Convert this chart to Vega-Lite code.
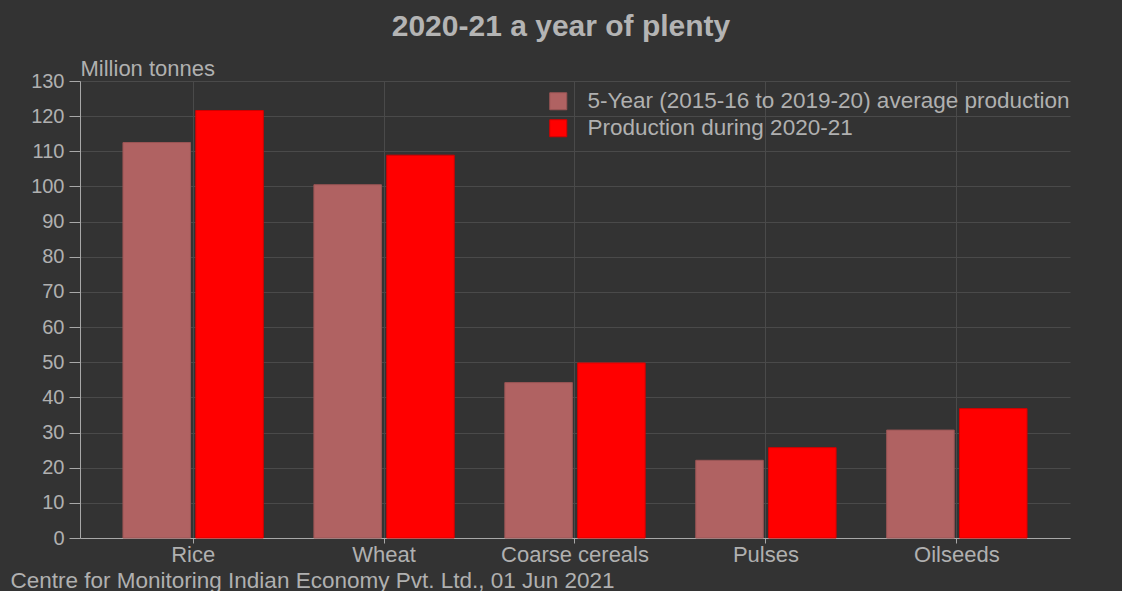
{
  "$schema": "https://vega.github.io/schema/vega-lite/v6.json",
  "width": 990,
  "height": 457,
  "autosize": {"type": "none"},
  "padding": {"left": 80, "top": 81, "right": 52, "bottom": 53},
  "background": "#333333",
  "title": {
    "text": "2020-21 a year of plenty",
    "font": "Liberation Sans",
    "fontSize": 30,
    "fontWeight": "bold",
    "color": "#b4b4b4",
    "anchor": "middle",
    "frame": "group",
    "baseline": "alphabetic",
    "dx": -14,
    "offset": -9
  },
  "data": {
    "values": [
      {"crop": "Rice", "series": "5-Year (2015-16 to 2019-20) average production", "value": 112.5},
      {"crop": "Rice", "series": "Production during 2020-21", "value": 121.6},
      {"crop": "Wheat", "series": "5-Year (2015-16 to 2019-20) average production", "value": 100.5},
      {"crop": "Wheat", "series": "Production during 2020-21", "value": 108.9},
      {"crop": "Coarse cereals", "series": "5-Year (2015-16 to 2019-20) average production", "value": 44.2},
      {"crop": "Coarse cereals", "series": "Production during 2020-21", "value": 49.8},
      {"crop": "Pulses", "series": "5-Year (2015-16 to 2019-20) average production", "value": 22.1},
      {"crop": "Pulses", "series": "Production during 2020-21", "value": 25.7},
      {"crop": "Oilseeds", "series": "5-Year (2015-16 to 2019-20) average production", "value": 30.7},
      {"crop": "Oilseeds", "series": "Production during 2020-21", "value": 36.8}
    ]
  },
  "mark": {"type": "bar", "strokeWidth": 1},
  "encoding": {
    "x": {
      "field": "crop",
      "type": "nominal",
      "sort": ["Rice", "Wheat", "Coarse cereals", "Pulses", "Oilseeds"],
      "scale": {"paddingInner": 0.265, "paddingOuter": 0.225},
      "axis": {
        "title": "Centre for Monitoring Indian Economy Pvt. Ltd., 01 Jun 2021",
        "titleX": -70,
        "titleY": 49,
        "titleAlign": "left",
        "titleAnchor": "start",
        "titleBaseline": "alphabetic",
        "titleFont": "Liberation Sans",
        "titleFontSize": 22.5,
        "titleFontWeight": "normal",
        "titleColor": "#b0b0b0",
        "labelAngle": 0,
        "labelFont": "Liberation Sans",
        "labelFontSize": 22,
        "labelColor": "#b0b0b0",
        "labelPadding": 1,
        "tickSize": 5,
        "tickColor": "#a8a8a8",
        "domainColor": "#a8a8a8",
        "grid": true,
        "gridColor": "#4a4a4a",
        "bandPosition": 0.5
      }
    },
    "xOffset": {
      "field": "series",
      "type": "nominal",
      "sort": ["5-Year (2015-16 to 2019-20) average production", "Production during 2020-21"],
      "scale": {"paddingInner": 0.073, "paddingOuter": 0}
    },
    "y": {
      "field": "value",
      "type": "quantitative",
      "scale": {"domain": [0, 130], "nice": false},
      "axis": {
        "values": [0, 10, 20, 30, 40, 50, 60, 70, 80, 90, 100, 110, 120, 130],
        "title": "Million tonnes",
        "titleAngle": 0,
        "titleX": 0,
        "titleY": -6,
        "titleAlign": "left",
        "titleBaseline": "alphabetic",
        "titleFont": "Liberation Sans",
        "titleFontSize": 22,
        "titleFontWeight": "normal",
        "titleColor": "#b0b0b0",
        "labelFont": "Liberation Sans",
        "labelFontSize": 20,
        "labelColor": "#b0b0b0",
        "labelPadding": 5,
        "tickSize": 11,
        "tickColor": "#a8a8a8",
        "domainColor": "#a8a8a8",
        "grid": true,
        "gridColor": "#4a4a4a"
      }
    },
    "color": {
      "field": "series",
      "type": "nominal",
      "scale": {
        "domain": ["5-Year (2015-16 to 2019-20) average production", "Production during 2020-21"],
        "range": ["#b06262", "#ff0000"]
      },
      "legend": {
        "title": null,
        "orient": "none",
        "legendX": 467,
        "legendY": 9,
        "symbolType": "square",
        "symbolSize": 289,
        "symbolStrokeWidth": 1,
        "labelFont": "Liberation Sans",
        "labelFontSize": 22.5,
        "labelColor": "#b0b0b0",
        "labelOffset": 18,
        "rowPadding": 4,
        "labelLimit": 600
      }
    },
    "stroke": {
      "field": "series",
      "type": "nominal",
      "scale": {
        "domain": ["5-Year (2015-16 to 2019-20) average production", "Production during 2020-21"],
        "range": ["#9a5555", "#d40000"]
      },
      "legend": {
        "title": null,
        "orient": "none",
        "legendX": 467,
        "legendY": 9,
        "symbolType": "square",
        "symbolSize": 289,
        "symbolStrokeWidth": 1,
        "labelFont": "Liberation Sans",
        "labelFontSize": 22.5,
        "labelColor": "#b0b0b0",
        "labelOffset": 18,
        "rowPadding": 4,
        "labelLimit": 600
      }
    }
  },
  "config": {
    "view": {"stroke": null}
  }
}
